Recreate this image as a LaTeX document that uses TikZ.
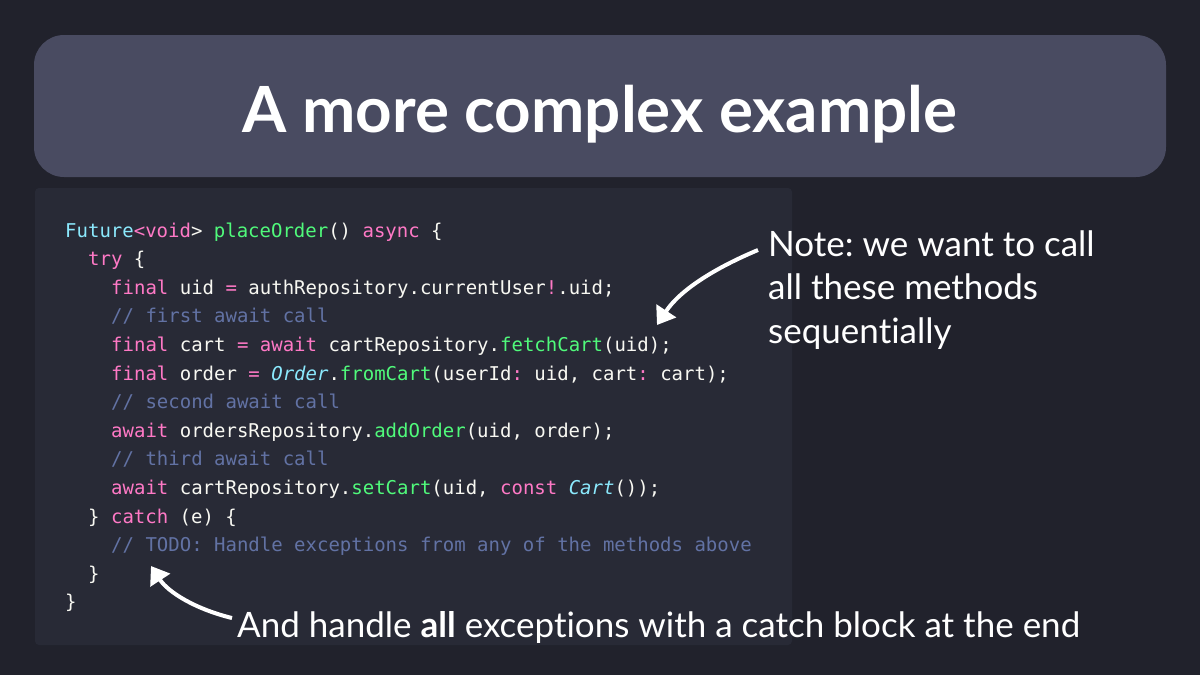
\documentclass[tikz,border=0pt]{standalone}
\usepackage{fontspec}
\setmonofont{DejaVu Sans Mono}
\newfontfamily\latofont{Lato}[Ligatures=NoCommon]
\usetikzlibrary{arrows.meta}
\frenchspacing
\definecolor{slidebg}{HTML}{21222C}
\definecolor{titlebg}{HTML}{494B61}
\definecolor{codebg}{HTML}{282A36}
\definecolor{kwpink}{HTML}{FF79C6}
\definecolor{fngreen}{HTML}{50FA7B}
\definecolor{tycyan}{HTML}{8BE9FD}
\definecolor{cmtblue}{HTML}{6272A4}
\definecolor{codefg}{HTML}{F8F8F2}
\newcommand\kw[1]{\textcolor{kwpink}{#1}}
\newcommand\fn[1]{\textcolor{fngreen}{#1}}
\newcommand\ty[1]{\textcolor{tycyan}{#1}}
\newcommand\tyit[1]{\textcolor{tycyan}{\itshape #1}}
\newcommand\cmt[1]{\textcolor{cmtblue}{#1}}
\tikzset{
  codeline/.style={anchor=base west, inner sep=0pt, text=codefg, font=\ttfamily\fontsize{19}{19}\selectfont},
  notetext/.style={anchor=base west, inner sep=0pt, text=white, align=left, font=\latofont\fontsize{35}{43.5}\selectfont},
  pointer/.style={line width=4pt, white, -{Triangle[length=17pt,width=23pt]}}
}

\begin{document}
\begin{tikzpicture}[x=1pt,y=-1pt]
\useasboundingbox (0,0) rectangle (1200,675);
\fill [slidebg] (0,0) rectangle (1200,675);
\fill [titlebg, rounded corners=30pt] (34,35) rectangle (1166,177);
\fill [codebg, rounded corners=4pt] (35,188) rectangle (792,645);
\node (title) at (600,132) [anchor=base, inner sep=0pt, text=white, font=\latofont\bfseries\fontsize{63.7}{64}\selectfont] {A more complex example};
\node (l1) at (65,237) [codeline] {\ty{Future}\kw{<void}>\ \fn{placeOrder}()\ \kw{async}\ \{};
\node (l2) at (88,265.6) [codeline] {\kw{try}\ \{};
\node (l3) at (111,294.2) [codeline] {\kw{final}\ uid\ \kw{=}\ authRepository.currentUser\kw{!}.uid;};
\node (l4) at (111,322.8) [codeline] {\cmt{//\ first\ await\ call}};
\node (l5) at (111,351.4) [codeline] {\kw{final}\ cart\ \kw{=}\ \kw{await}\ cartRepository.\fn{fetchCart}(uid);};
\node (l6) at (111,380) [codeline] {\kw{final}\ order\ \kw{=}\ \tyit{Order}.\fn{fromCart}(userId\kw{:}\ uid,\ cart\kw{:}\ cart);};
\node (l7) at (111,408.6) [codeline] {\cmt{//\ second\ await\ call}};
\node (l8) at (111,437.2) [codeline] {\kw{await}\ ordersRepository.\fn{addOrder}(uid,\ order);};
\node (l9) at (111,465.8) [codeline] {\cmt{//\ third\ await\ call}};
\node (l10) at (111,494.4) [codeline] {\kw{await}\ cartRepository.\fn{setCart}(uid,\ \kw{const}\ \tyit{Cart}());};
\node (l11) at (88,523) [codeline] {\}\ \kw{catch}\ (e)\ \{};
\node (l12) at (111,551.6) [codeline] {\cmt{//\ TODO:\ Handle\ exceptions\ from\ any\ of\ the\ methods\ above}};
\node (l13) at (88,580.2) [codeline] {\}};
\node (l14) at (65,608.8) [codeline] {\}};
\node (note) at (768,343) [notetext] {Note: we want to call\\all these methods\\sequentially};
\node (catchnote) at (237,637) [notetext] {And handle \textbf{all} exceptions with a catch block at the end};
\coordinate (fetchtip) at (657,325);
\coordinate (catchtip) at (151,566);
\draw [pointer] (758,250) .. controls (715,268) and (680,290) .. (fetchtip);
\draw [pointer] (232,618) .. controls (195,609) and (168,592) .. (catchtip);
\end{tikzpicture}
\end{document}
